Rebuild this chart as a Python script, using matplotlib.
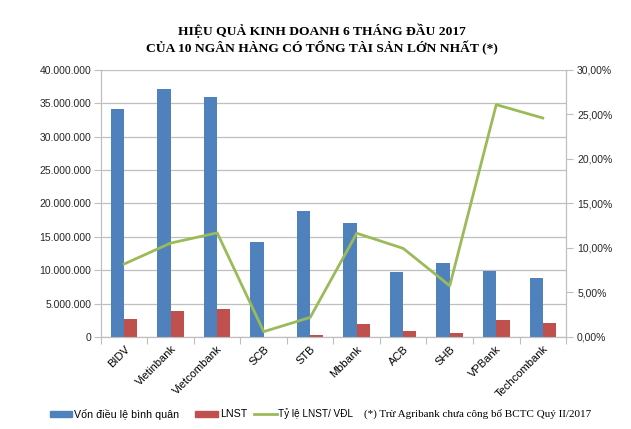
import numpy as np
import matplotlib.pyplot as plt
from matplotlib.lines import Line2D
from matplotlib.patches import Rectangle
from matplotlib.ticker import FuncFormatter, MultipleLocator

blue = '#4F81BD'
red = '#C0504D'
green = '#9BBB59'
grid_color = '#BFBFBF'

banks = ['BIDV', 'Vietinbank', 'Vietcombank', 'SCB', 'STB',
         'Mbbank', 'ACB', 'SHB', 'VPBank', 'Techcombank']
von_dieu_le = [34.1e6, 37.15e6, 35.9e6, 14.2e6, 18.8e6,
               17.0e6, 9.75e6, 11.1e6, 9.9e6, 8.85e6]
lnst = [2.74e6, 3.9e6, 4.2e6, 0.05e6, 0.35e6,
        1.95e6, 0.9e6, 0.6e6, 2.55e6, 2.1e6]
ty_le = [8.2, 10.55, 11.7, 0.6, 2.2, 11.65, 9.95, 5.75, 26.1, 24.6]

title_1 = 'HIỆU QUẢ KINH DOANH 6 THÁNG ĐẦU 2017'
title_2 = 'CỦA 10 NGÂN HÀNG CÓ TỔNG TÀI SẢN LỚN NHẤT (*)'
legend_labels = ['Vốn điều lệ bình quân', 'LNST', 'Tỷ lệ LNST/ VĐL']
note = '(*) Trừ Agribank chưa công bố BCTC Quý II/2017'

sans = 'Liberation Sans'
serif = 'Liberation Serif'

W, H = 631, 429


def dot_thousands(v, pos):
    return '{:,.0f}'.format(v).replace(',', '.')


def pct_comma(v, pos):
    return '{:.2f}%'.format(v).replace('.', ',')


fig = plt.figure(figsize=(W / 100, H / 100), dpi=100)
ax = fig.add_axes([0.160, 0.2145, 0.737, 0.6225])
ax2 = ax.twinx()

x = np.arange(len(banks))
w = 0.285
ax.bar(x - w / 2, von_dieu_le, w, color=blue, zorder=3)
ax.bar(x + w / 2, lnst, w, color=red, zorder=3)
ax2.plot(x, ty_le, color=green, lw=2, zorder=4)

ax.set_xlim(-0.5, len(banks) - 0.5)
ax.set_ylim(0, 40e6)
ax.yaxis.set_major_locator(MultipleLocator(5e6))
ax.yaxis.set_major_formatter(FuncFormatter(dot_thousands))
ax.grid(axis='y', color=grid_color, lw=0.9, zorder=0)
ax.set_axisbelow(True)

ax2.set_ylim(0, 30)
ax2.yaxis.set_major_locator(MultipleLocator(5))
ax2.yaxis.set_major_formatter(FuncFormatter(pct_comma))

# tick marks on category boundaries, labels at the centres
ax.set_xticks(np.arange(-0.5, len(banks) + 0.5, 1))
ax.set_xticklabels([])
ax.set_xticks(x, minor=True)
ax.set_xticklabels(banks, minor=True, rotation=45, ha='right', va='top',
                   rotation_mode='anchor', fontsize=8, family=sans)
ax.tick_params(axis='x', which='minor', length=0, pad=5)
ax.tick_params(axis='x', which='major', length=5, color=grid_color)

ax.tick_params(axis='y', length=5, color=grid_color, labelsize=7.5, pad=2)
ax2.tick_params(axis='y', length=5, color=grid_color, labelsize=7.5, pad=3)
for lab in ax.get_yticklabels() + ax2.get_yticklabels():
    lab.set_family(sans)
    lab.set_color('#262626')

for a in (ax, ax2):
    a.spines['top'].set_visible(False)
    for s in ('left', 'right', 'bottom'):
        a.spines[s].set_color(grid_color)

fig.text(0.51, 1 - 31 / H, title_1, ha='center', va='center', fontsize=9.7,
         fontweight='bold', family=serif)
fig.text(0.51, 1 - 48 / H, title_2, ha='center', va='center', fontsize=9.7,
         fontweight='bold', family=serif)

# legend laid out by hand along the bottom
ly = 1 - 414 / H
fig.patches.append(Rectangle((50 / W, ly - 3 / H), 22 / W, 6 / H, color=blue,
                             transform=fig.transFigure, figure=fig))
fig.text(74 / W, ly, legend_labels[0], ha='left', va='center', fontsize=7.7, family=sans)
fig.patches.append(Rectangle((195 / W, ly - 3 / H), 23 / W, 6 / H, color=red,
                             transform=fig.transFigure, figure=fig))
fig.text(220 / W, ly, legend_labels[1], ha='left', va='center', fontsize=7.7, family=sans)
fig.lines.append(Line2D([254 / W, 277 / W], [ly, ly], color=green, lw=2,
                        transform=fig.transFigure, figure=fig))
fig.text(278 / W, ly, legend_labels[2], ha='left', va='center', fontsize=7.2, family=sans)
fig.text(364 / W, ly, note, ha='left', va='center', fontsize=8, family=serif)

fig.savefig('out.png', dpi=100)
